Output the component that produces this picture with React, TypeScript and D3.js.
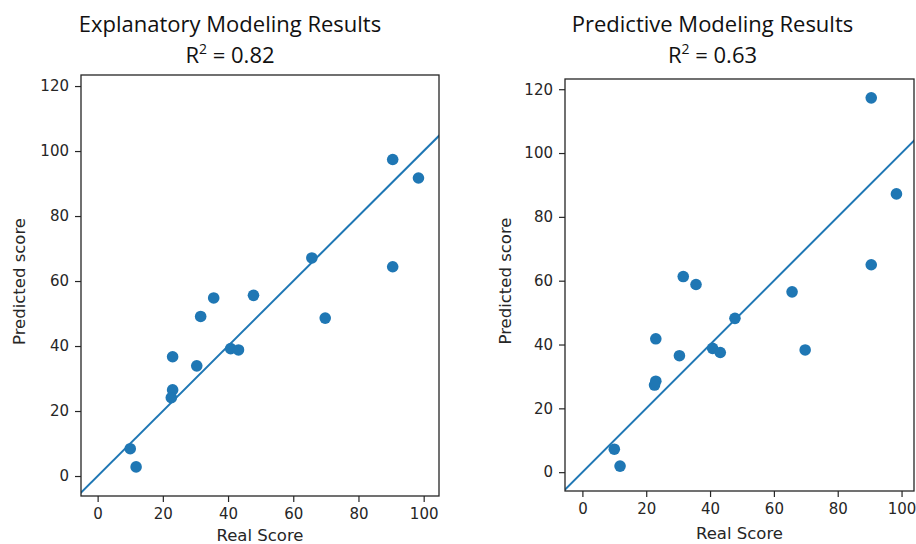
import React, { useEffect, useRef } from 'react';
import * as d3 from 'd3';

// real scores (shared by both panels)
const realScore = [10, 11.8, 23, 23, 22.6, 30.4, 31.6, 35.6, 40.8, 43.2, 47.8, 65.7, 69.8, 90.5, 90.5, 98.4];
// predicted scores
const explanatoryPred = [8.4, 2.8, 36.7, 26.5, 24.1, 33.9, 49.1, 54.8, 39.2, 38.8, 55.6, 67.1, 48.6, 97.4, 64.4, 91.7];
const predictivePred = [7.2, 1.9, 41.8, 28.5, 27.3, 36.5, 61.3, 58.8, 38.8, 37.5, 48.2, 56.5, 38.3, 117.3, 65.0, 87.2];

const xTicks = [0, 20, 40, 60, 80, 100];
const yTicks = [0, 20, 40, 60, 80, 100, 120];

const titles = ['Explanatory Modeling Results', 'Predictive Modeling Results'];
const r2Values = ['0.82', '0.63'];

const blue = '#1f77b4';
const ink = '#262626';

export default function App() {
    const svgRef = useRef<SVGSVGElement>(null);

    useEffect(() => {
        const svg = d3.select(svgRef.current);
        svg.selectAll('*').remove();

        const panels = [
            { id: 'a', pred: explanatoryPred, title: titles[0], r2: r2Values[0], left: 81, right: 439, top: 75, bottom: 496, xDomain: [-5.1, 104.7], yDomain: [-6.15, 123.4], titleX: 230, ylabelX: 19, xlabelY: 541 },
            { id: 'b', pred: predictivePred, title: titles[1], r2: r2Values[1], left: 565, right: 914, top: 79, bottom: 491, xDomain: [-5.45, 103.9], yDomain: [-5.9, 123.2], titleX: 712.5, ylabelX: 505, xlabelY: 539 },
        ];

        panels.forEach((p) => {
            const xScale = d3.scaleLinear().domain(p.xDomain).range([p.left, p.right]);
            const yScale = d3.scaleLinear().domain(p.yDomain).range([p.bottom, p.top]);
            const g = svg.append('g');

            g.append('clipPath').attr('id', 'clip-' + p.id)
                .append('rect')
                .attr('x', p.left).attr('y', p.top)
                .attr('width', p.right - p.left).attr('height', p.bottom - p.top);

            // reference line y = x
            const lo = Math.min(p.xDomain[0], p.yDomain[0]);
            const hi = Math.max(p.xDomain[1], p.yDomain[1]);
            const line = d3.line<number>().x((d) => xScale(d)).y((d) => yScale(d));
            g.append('path')
                .datum([lo, hi])
                .attr('d', line)
                .attr('clip-path', `url(#clip-${p.id})`)
                .attr('fill', 'none')
                .attr('stroke', blue)
                .attr('stroke-width', 2);

            g.selectAll('circle')
                .data(p.pred)
                .join('circle')
                .attr('cx', (d, i) => xScale(realScore[i]))
                .attr('cy', (d) => yScale(d))
                .attr('r', 5.8)
                .attr('fill', blue);

            const xAxis = d3.axisBottom(xScale).tickValues(xTicks).tickSize(6).tickPadding(6).tickSizeOuter(0);
            const gx = g.append('g').attr('transform', `translate(0,${p.bottom})`).call(xAxis);
            const yAxis = d3.axisLeft(yScale).tickValues(yTicks).tickSize(6).tickPadding(6).tickSizeOuter(0);
            const gy = g.append('g').attr('transform', `translate(${p.left},0)`).call(yAxis);
            [gx, gy].forEach((a) => {
                a.select('.domain').remove();
                a.selectAll('line').attr('stroke', ink).attr('stroke-width', 1.2);
                a.selectAll('text')
                    .attr('fill', ink)
                    .style('font-family', '"DejaVu Sans", sans-serif')
                    .style('font-size', '15px');
            });

            g.append('rect')
                .attr('x', p.left).attr('y', p.top)
                .attr('width', p.right - p.left).attr('height', p.bottom - p.top)
                .attr('fill', 'none')
                .attr('stroke', ink)
                .attr('stroke-width', 1.3);

            // axis labels
            g.append('text')
                .attr('x', (p.left + p.right) / 2)
                .attr('y', p.xlabelY)
                .attr('text-anchor', 'middle')
                .attr('fill', ink)
                .style('font-family', '"DejaVu Sans", sans-serif')
                .style('font-size', '16.5px')
                .text('Real Score');

            g.append('text')
                .attr('transform', `translate(${p.ylabelX},${(p.top + p.bottom) / 2 - 4}) rotate(-90)`)
                .attr('text-anchor', 'middle')
                .attr('dy', '0.35em')
                .attr('fill', ink)
                .style('font-family', '"DejaVu Sans", sans-serif')
                .style('font-size', '16.5px')
                .text('Predicted score');

            // title
            const t = g.append('g')
                .attr('fill', '#111')
                .style('font-family', '"Open Sans", "Noto Sans", sans-serif')
                .style('font-size', '22px');
            t.append('text')
                .attr('x', p.titleX).attr('y', 32)
                .attr('text-anchor', 'middle')
                .text(p.title);
            const r = t.append('text')
                .attr('x', p.titleX).attr('y', 63)
                .attr('text-anchor', 'middle');
            r.append('tspan').text('R');
            r.append('tspan').attr('dy', -9).style('font-size', '14px').text('2');
            r.append('tspan').attr('dy', 9).text(' = ' + p.r2);
        });
    }, []);

    return (
        <svg ref={svgRef} width={916} height={544}
            style={{ position: 'absolute', left: 0, top: 0, background: '#fff' }} />
    );
}
